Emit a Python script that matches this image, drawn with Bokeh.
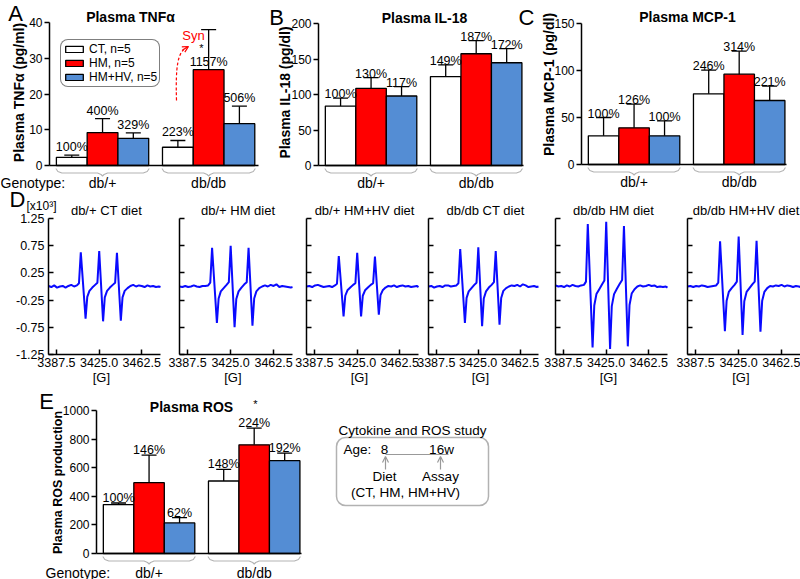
import numpy as np
from bokeh.plotting import figure
from bokeh.models import (Range1d, ColumnDataSource, Whisker, TeeHead, LabelSet, Label,
                          PolyAnnotation, FixedTicker, NumeralTickFormatter, Legend, LegendItem,
                          Arrow, OpenHead, BoxAnnotation, LinearAxis)
from bokeh.embed import file_html
from bokeh.resources import INLINE
from bokeh.core.properties import value

FONT = "Liberation Sans"
SX, SY = 1.0, 1.0   # reference pixel -> page pixel
W, H = 800, 579

# ---------------- data ----------------
genotypes = ["db/+", "db/db"]
diets = ["CT", "HM", "HM+HV"]
legend_labels = ["CT, n=5", "HM, n=5", "HM+HV, n=5"]
diet_colors = ["#ffffff", "#ff0000", "#548dd4"]

tnf_mean = [2.3, 9.2, 7.6, 5.1, 26.8, 11.7]
tnf_se = [0.6, 3.9, 1.5, 1.9, 11.2, 4.9]
tnf_pct = ["100%", "400%", "329%", "223%", "1157%", "506%"]
tnf_ticks = [0, 10, 20, 30, 40]

il18_mean = [83.7, 108.7, 97.9, 125.3, 157.4, 144.7]
il18_se = [11.3, 15.2, 13.2, 16.5, 18.5, 19.8]
il18_pct = ["100%", "130%", "117%", "149%", "187%", "172%"]
il18_ticks = [0, 50, 100, 150, 200]

mcp1_mean = [30.5, 39.0, 30.5, 75.2, 96.1, 68.1]
mcp1_se = [19.5, 25.2, 16.0, 25.2, 24.5, 15.2]
mcp1_pct = ["100%", "126%", "100%", "246%", "314%", "221%"]
mcp1_ticks = [0, 50, 100, 150]

ros_mean = [342, 495, 214, 507, 760, 649]
ros_se = [11, 193, 37, 81, 117, 53]
ros_pct = ["100%", "146%", "62%", "148%", "224%", "192%"]
ros_ticks = [0, 200, 400, 600, 800, 1000]

epr_titles = ["db/+ CT diet", "db/+ HM diet", "db/+ HM+HV diet",
              "db/db CT diet", "db/db HM diet", "db/db HM+HV diet"]
epr_ticks_x = [3387.5, 3425.0, 3462.5]
epr_ticks_y = [-1.25, -0.75, -0.25, 0.25, 0.75, 1.25]
epr_field = [3380.5, 3383, 3385.5, 3388, 3390.5, 3393, 3395.5, 3398, 3400.5, 3403, 3405.5,
             3407.3, 3408.9, 3413.1, 3414.6, 3416.5, 3419, 3421.5, 3423.5,
             3425.1, 3428.5, 3430, 3432, 3434.5, 3437, 3439.1,
             3440.7, 3444.1, 3445.6, 3447.5, 3450,
             3452.5, 3455, 3457.5, 3460, 3462.5, 3465, 3467.5, 3470, 3472.5, 3475, 3477.5, 3479]
epr_db_p_ct = [0.01, -0.01, 0.02, -0.02, 0.0, 0.01, -0.02, 0.01, 0.03, 0.0, 0.02,
               0.06, 0.63, -0.59, -0.19, -0.08, -0.02, 0.03, 0.07,
               0.65, -0.64, -0.2, -0.08, -0.02, 0.03, 0.07,
               0.62, -0.63, -0.2, -0.08, -0.03,
               0.01, 0.03, 0.0, 0.02, 0.01, -0.01, 0.02, 0.0, 0.01, -0.01, 0.0, -0.01]
epr_db_p_hm = [0.0, -0.01, 0.01, -0.01, 0.0, 0.02, 0.0, -0.01, 0.01, 0.01, 0.02,
               0.07, 0.71, -0.67, -0.22, -0.09, -0.03, 0.03, 0.08,
               0.75, -0.75, -0.23, -0.09, -0.02, 0.04, 0.08,
               0.71, -0.72, -0.22, -0.09, -0.03,
               0.0, 0.02, 0.0, 0.03, 0.01, 0.04, -0.01, 0.01, 0.0, -0.01, -0.02, -0.01]
epr_db_p_hv = [0.0, 0.01, -0.01, 0.02, 0.03, 0.01, -0.01, 0.0, 0.01, -0.01, 0.02,
               0.05, 0.56, -0.55, -0.17, -0.07, -0.02, 0.03, 0.06,
               0.62, -0.55, -0.17, -0.07, -0.02, 0.03, 0.06,
               0.55, -0.52, -0.16, -0.07, -0.02,
               0.01, 0.0, 0.02, -0.01, 0.01, 0.02, 0.0, 0.01, -0.01, 0.0, 0.01, -0.01]
epr_db_db_ct = [0.0, 0.01, -0.02, 0.0, 0.01, -0.01, 0.02, 0.02, 0.0, 0.01, 0.02,
                0.06, 0.69, -0.67, -0.21, -0.09, -0.03, 0.03, 0.07,
                0.72, -0.73, -0.22, -0.09, -0.02, 0.03, 0.08,
                0.65, -0.70, -0.21, -0.08, -0.03,
                0.0, 0.02, 0.01, 0.03, 0.0, 0.04, 0.02, -0.01, 0.0, 0.01, -0.01, 0.0]
epr_db_db_hm = [0.02, 0.0, 0.01, -0.01, 0.02, 0.0, 0.03, 0.01, 0.0, 0.02, 0.03,
                0.09, 1.15, -1.12, -0.35, -0.14, -0.05, 0.04, 0.11,
                1.19, -1.15, -0.36, -0.14, -0.04, 0.05, 0.12,
                1.11, -1.10, -0.34, -0.13, -0.05,
                0.0, 0.02, 0.0, 0.01, 0.03, 0.01, 0.02, -0.01, 0.0, -0.01, 0.0, -0.02]
epr_db_db_hv = [0.0, 0.01, -0.01, 0.01, 0.0, 0.02, 0.01, -0.01, 0.0, 0.01, 0.02,
                0.07, 0.83, -0.82, -0.26, -0.1, -0.03, 0.03, 0.09,
                0.92, -0.89, -0.27, -0.1, -0.03, 0.04, 0.09,
                0.84, -0.83, -0.26, -0.1, -0.03,
                0.01, 0.0, 0.02, 0.01, 0.03, 0.0, 0.02, 0.01, -0.01, 0.01, 0.0, -0.01]
epr_spectra = [epr_db_p_ct, epr_db_p_hm, epr_db_p_hv, epr_db_db_ct, epr_db_db_hm, epr_db_db_hv]

study_title = "Cytokine and ROS study"
study_ages = ["8", "16w"]
study_steps = ["Diet", "Assay"]

# ---------------- one canvas, page-pixel main ranges ----------------
p = figure(width=W, height=H, x_range=Range1d(0, W), y_range=Range1d(H, 0),
           output_backend="svg", toolbar_location=None, min_border=0,
           x_axis_location=None, y_axis_location=None)
p.outline_line_color = None
p.background_fill_color = "white"
p.border_fill_color = "white"
p.grid.grid_line_color = None
p.grid.visible = False


def rx(xr):
    return SX * xr


def ry(yr):
    return SY * yr


def txt(xr, yr, text, size="13px", bold=False, align="center", baseline="middle",
        color="black", angle=0.0):
    p.add_layout(Label(x=rx(xr), y=ry(yr), text=text, text_font=FONT, text_font_size=size,
                       text_font_style="bold" if bold else "normal", text_align=align,
                       text_baseline=baseline, text_color=color, angle=angle))


def panel_ranges(name, box_ref, x0, x1, y0, y1):
    """Named ranges so that [x0,x1]x[y0,y1] lands on the reference box (l, r, t, b)."""
    L, R, T, B = rx(box_ref[0]), rx(box_ref[1]), ry(box_ref[2]), ry(box_ref[3])
    kx = (x1 - x0) / (R - L)
    ky = (y1 - y0) / (B - T)
    p.extra_x_ranges[name] = Range1d(x0 - L * kx, x1 + (W - R) * kx)
    p.extra_y_ranges[name] = Range1d(y0 - (H - B) * ky, y1 + T * ky)
    return L, R, T, B, kx, ky


def style_axis(ax, size):
    ax.axis_line_color = "black"
    ax.axis_line_width = 1.5
    ax.major_tick_line_color = "black"
    ax.major_tick_line_width = 1.5
    ax.minor_tick_line_color = None
    ax.major_label_text_font = FONT
    ax.major_label_text_font_size = size
    ax.major_label_text_color = "black"


BW = 0.29


def bar_panel(name, box_ref, mean, se, pct, ticks, x1, lab_off, lab_y=None, grp_dy=17,
              grp_size="14px"):
    x0, y0, y1 = -0.5, 0, ticks[-1]
    L, R, T, B, kx, ky = panel_ranges(name, box_ref, x0, x1, y0, y1)
    rn = dict(x_range_name=name, y_range_name=name)
    xs = [g + (d - 1) * BW for g in range(len(genotypes)) for d in range(len(diets))]
    upper = [m + s for m, s in zip(mean, se)]
    src = ColumnDataSource(dict(x=xs, top=mean, upper=upper,
                                color=diet_colors * len(genotypes), pct=pct,
                                laby=lab_y if lab_y is not None else upper))
    bars = p.vbar(x="x", top="top", bottom=0, width=BW, source=src, fill_color="color",
                  line_color="black", line_width=1.3, **rn)
    p.add_layout(Whisker(source=src, base="x", lower="top", upper="upper", dimension="height",
                         line_color="black", line_width=1.3,
                         upper_head=TeeHead(size=15, line_color="black", line_width=1.3),
                         lower_head=None, level="annotation", **rn))
    p.add_layout(LabelSet(source=src, x="x", y="laby", text="pct", y_offset=lab_off,
                          text_align="center", text_baseline="alphabetic",
                          text_font=value(FONT), text_font_size="12.5px",
                          text_color="black", **rn))
    ya = LinearAxis(fixed_location=x0, bounds=(y0, y1), ticker=FixedTicker(ticks=ticks), **rn)
    style_axis(ya, "12px")
    ya.major_tick_in = 0
    ya.major_tick_out = 5
    ya.major_label_standoff = 2
    p.add_layout(ya, "left")
    xa = LinearAxis(fixed_location=y0, bounds=(x0, x1), ticker=FixedTicker(ticks=[]), **rn)
    style_axis(xa, "11px")
    xa.major_tick_line_color = None
    p.add_layout(xa, "below")

    half = 0.44 / kx
    for g, gname in enumerate(genotypes):
        cx = L + (g - x0) / kx
        p.add_layout(Label(x=cx, y=B + grp_dy, text=gname, text_align="center",
                           text_baseline="middle", text_font=FONT, text_font_size=grp_size,
                           text_color="black"))
        pts = [(-half, 3), (-half + 2, 6), (-half + 6, 7.5), (-5, 7.5), (-1.5, 9), (0, 10.5),
               (1.5, 9), (5, 7.5), (half - 6, 7.5), (half - 2, 6), (half, 3)]
        bxs = [cx + a for a, _ in pts]
        bys = [B + b for _, b in pts]
        p.add_layout(PolyAnnotation(xs=bxs + bxs[::-1], ys=bys + bys[::-1], fill_color=None,
                                    fill_alpha=0, line_color="black", line_width=1.1))
    return bars


# ---------------- Panel A ----------------
tnf_upper = [m + s for m, s in zip(tnf_mean, tnf_se)]
tnf_laby = list(tnf_upper)
tnf_laby[4] = tnf_mean[4]   # the 1157% label sits inside its error bar
bars_a = bar_panel("A", (49, 258, 22, 165), tnf_mean, tnf_se, tnf_pct, tnf_ticks, 1.47, 4,
                   lab_y=tnf_laby)
txt(15, 13, "A", size="22px")
txt(130, 16, "Plasma TNFα", size="14px", bold=True)
txt(18, 92, "Plasma TNFα (pg/ml)", size="14px", bold=True, angle=np.pi / 2)
txt(0, 182, "Genotype:", size="14px", align="left")
legend = Legend(items=[LegendItem(label=value(legend_labels[i]), renderers=[bars_a], index=i)
                       for i in range(len(legend_labels))],
                location=(rx(60), H - ry(87)), orientation="vertical", padding=2, spacing=0,
                margin=0, glyph_width=22, glyph_height=8, label_height=10, label_standoff=4,
                label_text_font=FONT, label_text_font_size="12px", label_text_color="black",
                border_line_color="black", border_line_width=1.5,
                background_fill_color="white", background_fill_alpha=1.0)
try:
    legend.border_radius = 8
except Exception:
    pass
p.add_layout(legend)

p.bezier(x0=rx(176), y0=ry(100), x1=rx(186), y1=ry(47), cx0=rx(175), cy0=ry(66),
         cx1=rx(177), cy1=ry(52), line_color="red", line_dash="3 2", line_width=1.2)
p.add_layout(Arrow(end=OpenHead(size=6, line_color="red", line_width=1.2),
                   x_start=rx(182), y_start=ry(49.5), x_end=rx(188), y_end=ry(46),
                   line_color="red", line_width=1.2))
txt(193, 35, "Syn", size="13px", color="red")
txt(201, 47, "*", size="11px")

# ---------------- Panel B ----------------
bar_panel("B", (318, 523, 23, 165), il18_mean, il18_se, il18_pct, il18_ticks, 1.45, 0)
txt(276, 17, "B", size="22px")
txt(424, 17, "Plasma IL-18", size="14px", bold=True)
txt(284, 92, "Plasma IL-18 (pg/dl)", size="14px", bold=True, angle=np.pi / 2)

# ---------------- Panel C ----------------
bar_panel("C", (581, 786, 23, 164), mcp1_mean, mcp1_se, mcp1_pct, mcp1_ticks, 1.45, 0)
txt(526, 17, "C", size="22px")
txt(687, 16, "Plasma MCP-1", size="14px", bold=True)
txt(548, 84, "Plasma MCP-1 (pg/dl)", size="14px", bold=True, angle=np.pi / 2)

# ---------------- Panel D ----------------
d_boxes = [(48, 160), (179, 292), (306, 418), (428, 538), (555, 667), (687, 800)]
for i, (l_ref, r_ref) in enumerate(d_boxes):
    nm = "D%d" % i
    L, R, T, B, kx, ky = panel_ranges(nm, (l_ref, r_ref, 218, 354), 3380.5, 3479, -1.25, 1.25)
    rn = dict(x_range_name=nm, y_range_name=nm)
    p.line(epr_field, epr_spectra[i], line_color="#0a0aff", line_width=2, **rn)
    xa = LinearAxis(fixed_location=-1.25, bounds=(3380.5, 3479),
                    ticker=FixedTicker(ticks=epr_ticks_x),
                    formatter=NumeralTickFormatter(format="0.0"), **rn)
    style_axis(xa, "12.5px")
    xa.major_tick_in = 5
    xa.major_tick_out = 0
    xa.major_label_standoff = 3
    p.add_layout(xa, "below")
    ya = LinearAxis(fixed_location=3380.5, bounds=(-1.25, 1.25),
                    ticker=FixedTicker(ticks=epr_ticks_y),
                    formatter=NumeralTickFormatter(format="0.00"), **rn)
    style_axis(ya, "12.5px")
    ya.major_tick_in = 5
    ya.major_tick_out = 0
    if i == 0:
        ya.major_label_standoff = 4
    else:
        ya.major_label_overrides = {t: "" for t in epr_ticks_y}
    p.add_layout(ya, "left")
    p.add_layout(Label(x=(L + R) / 2 + 2, y=T - 8, text=epr_titles[i], text_align="center",
                       text_baseline="middle", text_font=FONT, text_font_size="13px",
                       text_color="black"))
    p.add_layout(Label(x=L + (3427 - 3380.5) / kx, y=B + 23, text="[G]",
                       text_align="center", text_baseline="middle", text_font=FONT,
                       text_font_size="13px", text_color="black"))
txt(17, 199, "D", size="22px")
txt(41, 205, "[x10³]", size="12px")

# ---------------- Panel E ----------------
bar_panel("E", (96, 301, 410, 553), ros_mean, ros_se, ros_pct, ros_ticks, 1.45, 1,
          grp_dy=19)
txt(46, 401, "E", size="22px")
txt(191, 406, "Plasma ROS", size="14px", bold=True)
txt(255, 403, "*", size="11px")
txt(57, 482, "Plasma ROS production", size="12.5px", bold=True, angle=np.pi / 2)
txt(45, 572, "Genotype:", size="14px", align="left")

# ---------------- Study design box ----------------
box = BoxAnnotation(left=rx(336), right=rx(488), top=ry(437), bottom=ry(505),
                    fill_color=None, fill_alpha=0, line_color="black", line_width=1.5)
try:
    box.border_radius = 9
except Exception:
    pass
p.add_layout(box)
p.line([rx(385), rx(448)], [ry(454), ry(454)], line_color="#999999", line_width=1.2)
for xr in (385, 440):
    p.add_layout(Arrow(end=OpenHead(size=6, line_color="#999999", line_width=1.2),
                       x_start=rx(xr), y_start=ry(469), x_end=rx(xr), y_end=ry(456),
                       line_color="#999999", line_width=1.2))
txt(412, 430, study_title, size="13.5px")
txt(343, 449, "Age:", size="13.5px", align="left")
txt(384, 449, study_ages[0], size="13.5px")
txt(441, 449, study_ages[1], size="13.5px")
txt(384, 476, study_steps[0], size="13.5px")
txt(440, 476, study_steps[1], size="13.5px")
txt(405, 492, "(" + ", ".join(diets) + ")", size="13.5px")

open("out.html", "w").write(file_html(p, INLINE, title="Plasma cytokines and ROS"))
